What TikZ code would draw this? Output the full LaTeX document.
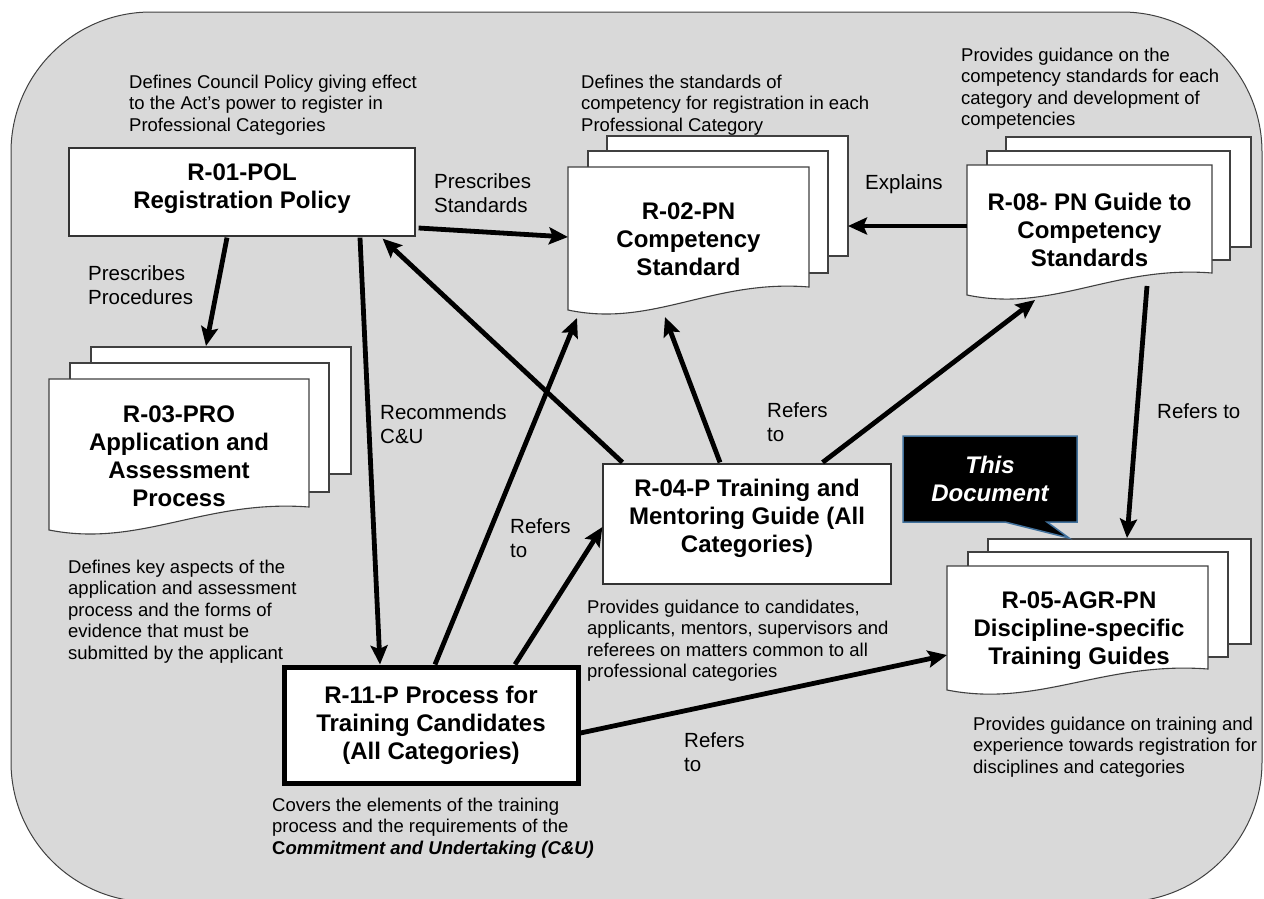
\documentclass[tikz,border=0pt]{standalone}
\usepackage{fontspec}
\setmainfont{Liberation Sans}
\usetikzlibrary{arrows.meta,calc}
\definecolor{bgfill}{HTML}{D9D9D9}
\definecolor{calloutblue}{HTML}{41719C}
\newcommand\backsheet[4]{\filldraw[sheetst] (#1,#2) rectangle (#3,#4);}
\newcommand\wavesheet[5]{\filldraw[sheetst] (#1,#2) -- (#3,#2) -- (#3,#4) .. controls ({#1+0.6*(#3-#1)},{#4-8}) and ({#1+0.35*(#3-#1)},{#5+18}) .. (#1,#5) -- cycle;}
\begin{document}
\begin{tikzpicture}[x=1pt,y=-1pt,
 desc/.style={anchor=north west,inner sep=0pt,align=left,font=\fontsize{18.5}{21.5}\selectfont},
 lbl/.style={anchor=north west,inner sep=0pt,align=left,font=\fontsize{20.5}{24.5}\selectfont},
 ttl/.style={anchor=north,inner sep=0pt,align=center,font=\bfseries\fontsize{24}{28}\selectfont},
 box/.style={draw=black!80,line width=1.2pt,fill=white,inner sep=0pt},
 front/.style={inner sep=0pt,outer sep=0pt},
 sheetst/.style={draw=black!75,line width=1.1pt,fill=white},
 conn/.style={line width=4.8pt,-{Stealth[length=19pt,width=17pt,inset=3.5pt]}},
]
\useasboundingbox (0,0) rectangle (1264,898);
\begin{scope}
\clip (0,0) rectangle (1264,898);
\draw[fill=bgfill,draw=black!75,line width=1pt,rounded corners=140pt] (11,12) rectangle (1262,902);
\end{scope}

% ---------- R-01 ----------
\node[box,minimum width=346pt,minimum height=88pt] (r01) at (242,192) {};
\node[ttl] (r01t) at (242,164) {R-01-POL\\Registration Policy};
\node[desc] (d01) at (129,74.5) {Defines Council Policy giving effect\\to the Act’s power to register in\\Professional Categories};

% ---------- R-02 stack ----------
\backsheet{607}{136}{848}{256}
\backsheet{588}{151}{828}{273}
\wavesheet{568}{167}{809}{287}{310}
\node[front,minimum width=241pt,minimum height=120pt] (r02) at (688.5,227) {};
\node[ttl] (r02t) at (688.5,203) {R-02-PN\\Competency\\Standard};
\node[desc] (d02) at (581,74.5) {Defines the standards of\\competency for registration in each\\Professional Category};

% ---------- R-08 stack ----------
\backsheet{1006}{137}{1251}{247}
\backsheet{987}{151}{1230}{260}
\wavesheet{967}{165}{1212}{273}{295}
\node[front,minimum width=245pt,minimum height=108pt] (r08) at (1089.5,219) {};
\node[ttl] (r08t) at (1089.5,193) {R-08- PN Guide to\\Competency\\Standards};
\node[desc] (d08) at (961,47.5) {Provides guidance on the\\competency standards for each\\category and development of\\competencies};

% ---------- R-03 stack ----------
\backsheet{91}{347}{351}{474}
\backsheet{70}{363}{329}{492}
\wavesheet{49}{379}{309}{507}{530}
\node[front,minimum width=260pt,minimum height=128pt] (r03) at (179,443) {};
\node[ttl] (r03t) at (179,406) {R-03-PRO\\Application and\\Assessment\\Process};
\node[desc] (d03) at (68,559.5) {Defines key aspects of the\\application and assessment\\process and the forms of\\evidence that must be\\submitted by the applicant};

% ---------- R-05 stack ----------
\backsheet{988}{539}{1251}{644}
\backsheet{968}{552}{1228}{657}
\wavesheet{947}{566}{1208}{669}{690}
\node[front,minimum width=261pt,minimum height=103pt] (r05) at (1077.5,617.5) {};
\node[ttl] (r05t) at (1079,592) {R-05-AGR-PN\\Discipline-specific\\Training Guides};
\node[desc] (d05) at (973,716.5) {Provides guidance on training and\\experience towards registration for\\disciplines and categories};

% ---------- R-04 ----------
\node[box,minimum width=288pt,minimum height=120pt] (r04) at (747,524) {};
\node[ttl] (r04t) at (747,479) {R-04-P Training and\\Mentoring Guide (All\\Categories)};
\node[desc] (d04) at (587,599.5) {Provides guidance to candidates,\\applicants, mentors, supervisors and\\referees on matters common to all\\professional categories};

% ---------- R-11 ----------
\node[box,draw=black,line width=5pt,minimum width=294pt,minimum height=116pt] (r11) at (431,725) {};
\node[ttl] (r11t) at (431,686) {R-11-P Process for\\Training Candidates\\(All Categories)};
\node[desc] (d11) at (272,797.5) {Covers the elements of the training\\process and the requirements of the\\\textbf{C\textit{ommitment and Undertaking (C\&U)}}};

% ---------- callout ----------
\filldraw[fill=black,draw=calloutblue,line width=1.5pt] (903,436) -- (1077,436) -- (1077,522) -- (1047,522) -- (1069,538) -- (1005,522) -- (903,522) -- cycle;
\node[ttl,text=white,font=\bfseries\itshape\fontsize{24}{28}\selectfont] (note) at (990,456) {This\\Document};

% ---------- connectors ----------
\draw[conn] ($(r01.east)+(3,36)$) -- ($(r02.west)+(0,10)$);
\draw[conn] ($(r01.south)+(-15,1)$) -- ($(r03.north)+(27,-33)$);
\draw[conn] ($(r01.south)+(118,1)$) -- ($(r11.north)+(-51,0)$);
\draw[conn] ($(r04.north west)+(20,-1)$) -- ($(r01.south east)+(-33,2)$);
\draw[conn] ($(r04.north)+(-27,-1)$) -- ($(r02.south)+(-23.5,30)$);
\draw[conn] ($(r11.north)+(4,0)$) -- ($(r02.south west)+(9,31)$);
\draw[conn] ($(r11.north)+(84,0)$) -- ($(r04.west)+(0,3)$);
\draw[conn] ($(r04.north east)+(-69,-1)$) -- ($(r08.south west)+(68,27)$);
\draw[conn] ($(r08.west)+(0,7)$) -- ($(r02.east)+(39,-1)$);
\draw[conn] ($(r08.south)+(57.5,13)$) -- ($(r05.north)+(49.5,-28)$);
\draw[conn] ($(r11.east)+(0,8)$) -- ($(r05.west)+(0,37.5)$);

% ---------- connector labels ----------
\node[lbl] (l1) at (434,173) {Prescribes\\Standards};
\node[lbl] (l2) at (88,265) {Prescribes\\Procedures};
\node[lbl] (l3) at (865,174) {Explains};
\node[lbl] (l4) at (380,404) {Recommends\\C\&U};
\node[lbl] (l5) at (510,518) {Refers\\to};
\node[lbl] (l6) at (767,402) {Refers\\to};
\node[lbl] (l7) at (1157,403) {Refers to};
\node[lbl] (l8) at (684,732) {Refers\\to};
\end{tikzpicture}
\end{document}
